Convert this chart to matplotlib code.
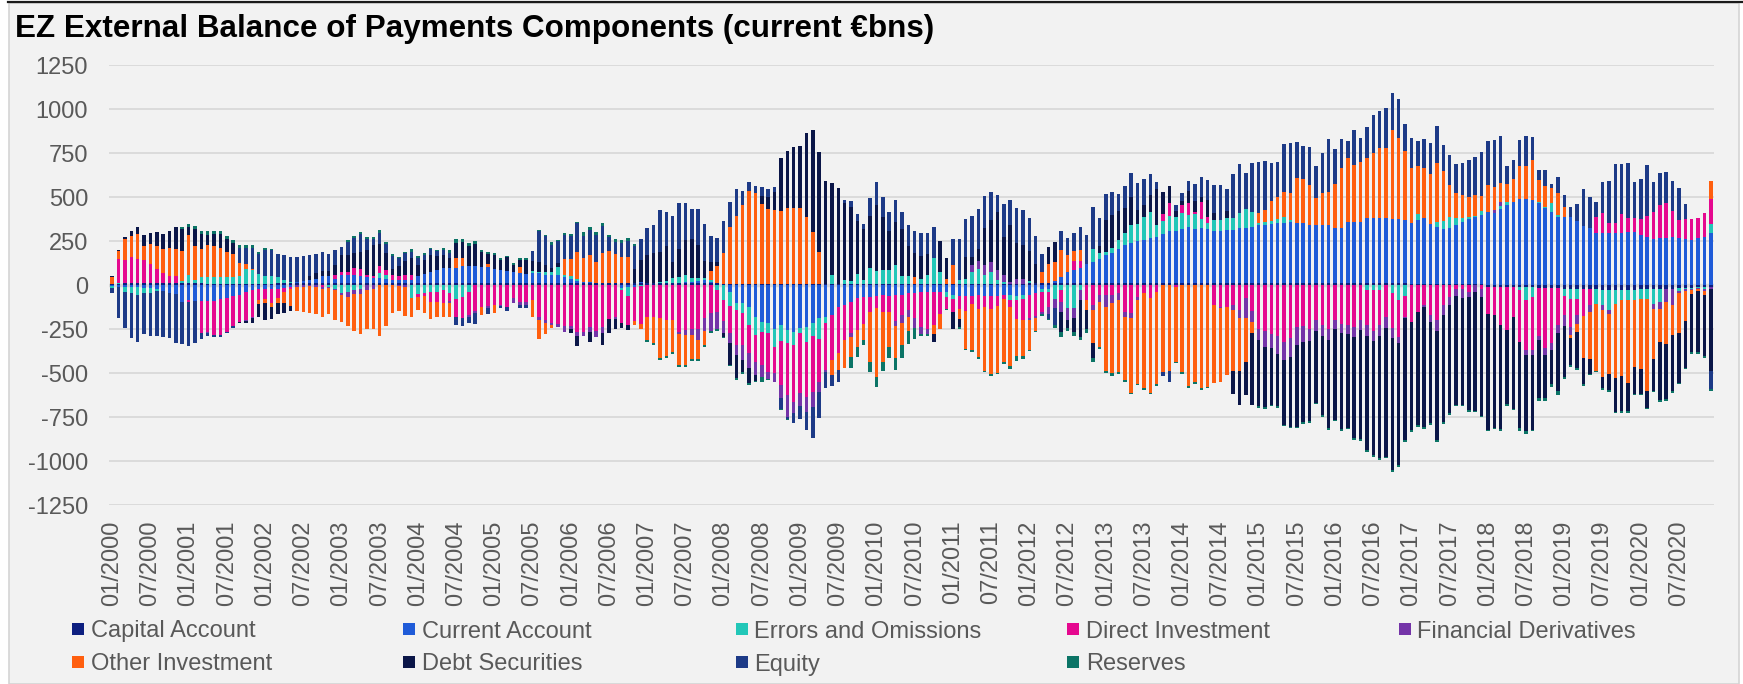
import matplotlib
matplotlib.use('Agg')
import matplotlib.pyplot as plt
import numpy as np
from matplotlib.patches import Rectangle
from matplotlib.lines import Line2D

plt.rcParams['font.family'] = ['Liberation Sans', 'DejaVu Sans']
plt.rcParams['axes.unicode_minus'] = False

# ---------------- data (12-month rolling sums, EUR bn), monthly 01/2000 .. 12/2020
years = list(range(2000, 2021))
months = [f"{m:02d}/{y}" for y in years for m in range(1, 13)]
tick_labels = months[::6]

series_names = ["Capital Account", "Current Account", "Errors and Omissions",
                "Direct Investment", "Financial Derivatives", "Other Investment",
                "Debt Securities", "Equity", "Reserves"]

cap = [8, 8, 9, 9, 9, 9, 9, 10, 10, 10, 10, 10,
       9, 9, 9, 8, 8, 8, 8, 8, 8, 8, 8, 8,
       8, 8, 9, 9, 9, 9, 9, 9, 9, 9, 9, 9,
       10, 10, 10, 10, 10, 10, 10, 10, 10, 10, 10, 10,
       12, 12, 12, 12, 12, 12, 12, 12, 12, 12, 12, 12,
       11, 11, 11, 11, 11, 11, 11, 11, 11, 11, 11, 11,
       10, 10, 10, 10, 10, 10, 10, 10, 10, 10, 10, 10,
       9, 9, 9, 9, 9, 9, 9, 9, 9, 9, 9, 9,
       8, 8, 8, 8, 8, 8, 8, 8, 8, 8, 8, 8,
       7, 7, 7, 7, 7, 7, 7, 7, 7, 7, 7, 7,
       6, 6, 6, 6, 6, 6, 6, 6, 6, 6, 6, 6,
       8, 8, 8, 8, 8, 8, 8, 8, 8, 8, 8, 8,
       10, 10, 10, 10, 10, 10, 10, 10, 10, 10, 10, 10,
       12, 12, 12, 12, 12, 12, 12, 12, 12, 12, 12, 12,
       12, 12, 12, 12, 12, 12, 12, 12, 12, 12, 12, 12,
       11, 11, 11, 11, 11, 11, 11, 11, 11, 11, 11, 11,
       10, 10, 10, 10, 10, 10, 10, 10, 10, 10, 10, 10,
       5, 5, 5, 5, 5, 5, 5, 5, 5, 5, 5, 5,
       -10, -10, -10, -10, -12, -12, -12, -12, -15, -15, -15, -15,
       -20, -20, -20, -25, -25, -25, -30, -30, -30, -30, -30, -30,
       -25, -25, -25, -20, -20, -20, -15, -15, -15, -10, -10, -10]

cur = [-8, -10, -12, -12, -12, -15, -15, -20, -35, -45, -50, -95,
       -85, -90, -90, -90, -90, -80, -75, -60, -55, -40, -30, -25,
       -20, -20, -20, -15, -10, 10, 15, 20, 25, 40, 40, 25,
       47, 44, 47, 40, 35, 30, 30, 25, 20, 20, 20, 20,
       40, 50, 62, 75, 85, 85, 85, 95, 95, 95, 90, 90,
       80, 75, 70, 65, 55, 50, 57, 55, 45, 45, 45, 35,
       25, 15, 5, 5, 0, 0, 0, 0, -15, -10, -10, 5,
       0, 0, 0, 0, 0, 5, 10, 10, 15, 20, 10, 0,
       0, -42, -100, -100, -125, -180, -210, -218, -250, -227, -256, -265,
       -246, -237, -218, -190, -180, -170, -123, -114, -95, -76, -70, -70,
       -60, -55, -60, -55, -55, -45, -45, -40, -40, -40, -40, -40,
       -58, -60, -62, -60, -58, -60, -62, -60, -58, -57, -62, -57,
       -55, -45, -20, -20, 13, 38, 66, 76, 89, 108, 119, 136,
       157, 170, 195, 214, 227, 237, 246, 256, 263, 275, 294, 297,
       309, 316, 309, 312, 309, 297, 297, 300, 303, 313, 313, 320,
       330, 330, 335, 340, 341, 345, 340, 340, 330, 330, 330, 330,
       312, 312, 347, 347, 350, 373, 373, 370, 369, 366, 366, 359,
       350, 364, 373, 341, 326, 312, 318, 335, 354, 369, 383, 394,
       413, 407, 430, 455, 473, 487, 487, 483, 468, 439, 417, 388,
       388, 384, 366, 335, 322, 297, 294, 294, 294, 297, 303, 303,
       282, 271, 260, 265, 265, 271, 265, 259, 256, 265, 271, 297]

err = [-10, 5, -25, -35, -45, -30, -30, -15, 0, 0, 0, 10,
       45, 20, 35, 35, 40, 35, 35, 40, 45, 85, 75, 55,
       45, 45, 35, 20, 10, 0, 0, 0, 0, 0, -10, -20,
       -47, -38, -30, -25, 0, 0, 30, 20, 0, 0, 0, -76,
       -50, -45, -40, -40, -30, -45, -80, -70, -40, 0, 0, 0,
       0, 0, 0, 0, 0, 0, 10, 10, 20, 20, 45, 10,
       15, 10, 0, 0, 0, 0, 0, 0, -15, -50, 0, -5,
       0, 0, 10, 15, 30, 30, 35, 20, 15, 10, 10, -30,
       -85, -80, -40, -60, -100, -105, -57, -57, -100, -90, -76, -76,
       -28, -85, -70, -114, -38, 47, 0, 19, 15, 57, 20, 89,
       76, 81, 81, 108, 47, 47, 0, 28, 53, 146, 66, -28,
       -20, 19, 28, 66, 85, 47, 66, 19, 10, -30, -23, -20,
       10, 0, -20, -20, -81, -28, -133, -133, -30, 0, 74, 34,
       19, 28, 51, 70, 104, 98, 127, 146, 68, 76, 85, 76,
       89, 72, 83, 51, 32, 62, 62, 70, 66, 85, 104, 80,
       10, 15, 20, 25, 32, 15, 0, 0, 0, 0, 0, 0,
       0, 0, 0, 0, 0, -30, -30, -30, 0, -47, -85, -61,
       0, 34, 0, 0, 25, 44, 66, 38, 20, 10, 5, 23,
       0, 0, 19, 19, 0, -19, -76, -57, 6, 6, 47, 10,
       -42, -57, -57, 0, 0, -85, -85, -114, -76, -57, -57, -57,
       -57, -57, -85, -76, 0, 0, -19, -10, -5, -5, -10, 49]

di = [0, 135, 135, 148, 138, 133, 112, 82, 58, 42, 40, 0,
      -10, 0, -185, -175, -195, -205, -190, -175, -158, -160, -150, -60,
      -60, -85, -55, -25, -10, 0, 0, 0, 0, -10, 0, 20,
      19, 19, 38, 40, 10, 10, 38, 30, 25, 20, 25, 28,
      -20, -20, -55, -55, -70, -45, -100, -115, -130, -150, -125, -122,
      -114, -114, -123, -76, -95, -95, -85, -180, -200, -216, -222, -235,
      -235, -265, -265, -240, -260, -240, -195, -180, -186, -170, -195, -215,
      -180, -180, -185, -200, -200, -265, -255, -250, -250, -190, -160, -125,
      -120, -150, -200, -180, -160, -150, -190, -218, -150, -250, -294, -322,
      -341, -312, -318, -246, -265, -256, -265, -199, -180, -180, -150, -85,
      -72, -100, -95, -152, -114, -95, -140, -200, -208, -189, -123, -66,
      -76, -76, -85, -47, -76, -66, -76, -60, -20, -40, -110, -123,
      -133, -133, -114, -85, 0, -66, 0, 51, 38, -85, -114, -57,
      -57, -55, -45, -152, -161, -66, -47, -76, -38, 38, 76, -10,
      47, 66, 11, 95, 32, -114, -123, -123, -113, -142, -76, -150,
      -250, -260, -280, -290, -322, -300, -240, -235, -250, -200, -230, -250,
      -200, -220, -230, -240, -200, -200, -230, -200, -180, -199, -208, -119,
      -208, -152, -114, -170, -199, -114, -66, -20, -20, -40, 0, -20,
      -152, -160, -220, -245, -170, -295, -284, -303, -275, -341, -313, -210,
      -110, -161, -95, -150, -90, 91, 114, 57, 61, 104, 80, 77,
      91, 123, 152, 189, 199, 152, 104, 115, 119, 117, 136, 140]

fd = [0, 0, 0, 0, 0, 0, 0, 0, 0, 0, 0, 0,
      0, 0, 0, -5, 0, 0, 0, 0, 0, -5, -5, 0,
      0, 0, 0, 0, 0, -10, -10, -8, -10, -10, -5, -10,
      -10, -28, -20, -25, -30, -25, 0, 0, 0, -5, -10, 0,
      0, 0, 0, 0, 0, -10, 0, 0, -10, -10, 0, -10,
      0, -5, 0, -28, -18, -18, 0, -20, -15, -10, -15, -30,
      -15, -25, -25, -25, -33, -30, 0, -15, 0, 0, 0, 0,
      0, 0, 0, 0, 0, -15, -30, -35, -60, -70, -100, -95,
      -65, -55, -57, -85, -85, -75, -65, -40, -50, -76, -123, -66,
      -72, -85, -85, -57, -9, 0, 0, 0, -19, 0, 0, 0,
      0, 0, 0, -28, -47, -40, -57, -38, -32, 0, 0, 0,
      0, 0, 0, 38, 42, 57, 57, 57, 38, 10, 28, 28,
      -13, -10, -10, -38, -51, -57, -66, -57, -57, 0, -28, -38,
      -66, -45, -40, -28, -25, -19, 0, 0, 0, 0, 0, 0,
      0, 0, 0, 0, 0, 0, -10, 0, -28, -47, -114, -60,
      -60, -90, -80, -100, -104, -110, -100, -90, -70, -60, -60, -60,
      -50, -55, -50, -55, -55, -60, -60, -60, -66, -57, -38, -10,
      0, 0, -10, -38, -62, -57, -47, -40, -53, -30, -38, -47,
      0, 19, 25, 0, 0, 0, -23, -28, -25, -42, -44, -47,
      -60, -47, -47, 0, -38, 0, -28, -19, 0, 0, 0, 0,
      0, 0, -28, -38, -76, -95, -10, -10, -10, -10, -15, -10]

oi = [40, 45, 115, 123, 144, 80, 110, 128, 138, 157, 157, 175,
      230, 190, 160, 185, 175, 170, 145, 130, 70, 28, 10, -25,
      -25, -20, -25, -60, -100, -140, -145, -152, -155, -160, -150, -170,
      -151, -165, -210, -230, -220, -225, -290, -231, -161, -140, -165, -108,
      -72, -96, -98, -85, -84, -80, 57, 47, 0, 0, -45, 20,
      -47, 0, 0, 0, 38, 0, -95, -106, -65, -20, 0, 90,
      95, 150, 138, 157, 123, 170, 183, 165, 150, 150, -20, -30,
      -135, -150, -230, -205, -182, -175, -170, -135, -110, -80, 50, 100,
      175, 322, 382, 445, 527, 515, 455, 426, 420, 411, 432, 430,
      430, 379, 294, 180, 0, -85, -95, -161, -114, -95, -90, -284,
      -388, -280, -199, -180, -123, -80, 38, 0, 0, -47, -85, 28,
      108, -57, -218, -265, -275, -360, -370, -380, -360, -335, -208, -204,
      -170, -71, 66, 108, 106, 152, 95, 57, 62, -57, -186, -256,
      -366, -400, -410, -360, -425, -475, -540, -536, -527, -492, -490, -426,
      -496, -573, -549, -587, -578, -445, -420, -390, -350, -300, -250, -60,
      60, 70, 110, 125, 144, 150, 259, 250, 227, 155, 184, 190,
      250, 345, 364, 322, 341, 337, 366, 398, 398, 506, 458, 392,
      309, 275, 284, 284, 337, 284, 180, 144, 135, 114, 120, 85,
      155, 130, 104, 100, 129, 189, 189, 227, 123, 117, 85, 127,
      57, -15, -47, -240, -265, -378, -380, -345, -420, -430, -470, -380,
      -398, -520, -284, -189, -237, -170, -227, -170, -20, -10, -20, 106]

debt = [5, 8, 12, 28, 38, 62, 66, 80, 83, 95, 120, 123,
        45, 98, 85, 55, 65, 75, 75, 60, -5, -13, -30, -70,
        -95, -70, -65, -60, -30, 0, 0, 20, 35, 30, 30, 60,
        95, 98, 85, 95, 145, 180, 123, 95, 38, 60, 80, 95,
        60, 80, 98, 80, 76, 57, 85, 91, 117, 127, 85, 55,
        81, 58, 76, 39, 40, 83, 57, 57, 38, 20, 25, 0,
        -20, -55, 0, -57, 0, -70, -79, -55, -30, -25, 80, 125,
        160, 170, 170, 195, 90, 160, 200, 220, 190, 100, 50, 20,
        -25, -125, -130, -70, -85, -38, 40, 66, 100, 303, 320, 346,
        352, 479, 577, 568, 583, 525, 545, 440, 420, 298, 290, 296,
        370, 297, 222, 246, 265, 170, 140, 133, 118, -47, 180, 118,
        -95, -47, 123, 47, 72, 212, 237, 331, 218, 322, 203, 193,
        176, 110, 0, 100, 117, -114, -47, -76, -208, -110, -85, 42,
        184, 189, 161, 142, 155, 81, 68, 100, 205, 130, 98, 38,
        19, 66, 61, 28, 100, 40, 0, 38, -130, -190, -185, -410,
        -380, -345, -320, -300, -369, -395, -465, -455, -455, -410, -450, -505,
        -515, -545, -530, -575, -620, -650, -645, -695, -729, -748, -691, -691,
        -616, -644, -682, -578, -619, -606, -616, -620, -610, -640, -680, -680,
        -660, -640, -590, -420, -520, -485, -437, -422, -326, -242, -193, -328,
        -290, -155, -205, -148, -85, 0, -62, -91, -195, -200, -160, -152,
        -137, -95, -180, -331, -317, -318, -285, -265, -330, -345, -350, -470]

eq = [-30, -180, -210, -255, -265, -235, -245, -255, -260, -255, -280, -238,
      -250, -240, -30, -20, -10, -10, -5, -10, 90, 90, 118, 115,
      145, 145, 130, 140, 140, 140, 140, 120, 105, 110, 95, 85,
      47, 72, 85, 103, 60, 30, 66, 53, 74, 42, 45, 37,
      42, 31, 33, 25, 25, 28, -47, -48, -38, -62, 0, -35,
      0, -14, -23, 0, -20, -20, 56, 171, 162, 133, 122, 136,
      133, 165, 127, 140, 150, 155, 81, 72, 80, 90, 133, 120,
      155, 160, 235, 195, 262, 260, 210, 170, 200, 210, 150, 140,
      180, 142, 157, 80, 51, 38, 55, 47, 30, -60, -12, -53,
      -76, -104, -180, -146, -95, -62, -66, 18, 35, 44, 30, 102,
      133, 114, 108, 123, 99, 120, 123, 129, 119, 176, 0, 0,
      144, 233, 218, 231, 224, 182, 161, 98, 185, 142, 199, 199,
      187, 161, 98, -28, -95, 108, 98, 104, 133, 167, 242, 157,
      146, 127, 98, 127, 138, 152, 152, 117, 38, -25, -63, 34,
      47, 61, 98, 114, 112, 160, 196, 123, 250, 278, 208, 280,
      290, 280, 215, 200, 273, 285, 205, 186, 218, 182, 224, 298,
      200, 163, 98, 199, 136, 180, 218, 212, 231, 208, 222, 152,
      174, 142, 167, 174, 208, 153, 169, 165, 177, 213, 217, 250,
      250, 270, 270, 102, 108, 150, 170, 130, 56, 91, 25, 91,
      66, 61, 95, 208, 176, 81, 176, 240, 331, 284, 312, 208,
      227, 286, 174, 180, 176, 170, 180, 89, 0, 0, 0, -100]

res = [0, 0, 0, 0, 0, 0, 0, 0, 0, 0, 0, 10,
       15, 20, 18, 25, 20, 18, 15, 15, 13, 15, 15, 10,
       10, 5, 0, 0, 0, 0, 0, 0, 0, 0, 0, 0,
       0, 10, 12, 15, 10, 10, 15, 10, 8, 8, 10, 12,
       10, 8, 8, 8, 10, 15, 20, 18, 15, 15, 10, 8,
       10, 8, 8, 10, 10, 10, 5, 10, 10, 15, 10, 13,
       10, 10, 20, 20, 20, 15, 10, 13, 16, 15, 12, 0,
       -10, -10, -10, -10, -10, -10, -10, -10, -10, -10, -10, -10,
       -5, -10, -10, -10, -12, -5, -28, -7, 0, -10, -8, 0,
       0, 0, 0, 0, 0, 0, 0, 0, -66, -57, -30, -57,
       -61, -55, -61, -67, -76, -75, -66, -10, -10, 0, 0, -10,
       0, -10, -7, -10, -10, -10, -10, -5, -10, -15, -28, -18,
       -2, -10, -10, -10, -15, -28, -13, -25, -19, -23, -23, -13,
       -13, -15, -10, -13, -10, -10, -10, -10, -10, 0, 0, -9,
       -10, -10, -12, -10, -10, 0, 0, 0, 0, 0, 0, 0,
       -8, -8, -8, -8, -8, -8, -8, -8, -8, -8, -8, -8,
       -8, -8, -8, -8, -10, -10, -10, -10, -10, -10, -10, -10,
       -10, -10, -10, -10, -10, -10, -10, -5, -5, -10, -5, -5,
       -8, -8, -8, -10, -10, -19, -13, -10, -19, -19, -15, -27,
       -10, -10, -10, -10, -10, -7, -10, -10, -8, -8, -8, -8,
       -8, -8, -8, -8, -10, -10, -8, -9, -10, -12, -12, -13]

colors = ["#0d1f80", "#1f5bd8", "#22c7b8", "#e5088f", "#7434a8",
          "#ff5f0f", "#0b1648", "#1d3a87", "#0b7466"]

data = [cap, cur, err, di, fd, oi, debt, eq, res]

# ---------------- figure
W, H = 1743, 684
fig = plt.figure(figsize=(W / 100, H / 100), dpi=100)
fig.patch.set_facecolor('white')
fig.patches.append(Rectangle((9 / W, 0), (1739 - 9) / W, (H - 3) / H,
                             transform=fig.transFigure, facecolor='#f2f2f2',
                             edgecolor='#d4d4d4', lw=1.2, zorder=-10))
fig.add_artist(Line2D([8 / W, 1], [1 - 2 / H, 1 - 2 / H], color='#1a1a1a', lw=1.6))

ax = fig.add_axes([109 / W, (H - 505) / H, 1605 / W, 440 / H])
ax.set_facecolor('#f2f2f2')

x = np.arange(len(months))
pos_bottom = np.zeros(len(months))
neg_bottom = np.zeros(len(months))
for vals, c in zip(data, colors):
    v = np.asarray(vals, dtype=float)
    p = np.where(v > 0, v, 0.0)
    n = np.where(v < 0, v, 0.0)
    ax.bar(x, p, bottom=pos_bottom, width=0.55, color=c, lw=0, zorder=3)
    ax.bar(x, n, bottom=neg_bottom, width=0.55, color=c, lw=0, zorder=3)
    pos_bottom += p
    neg_bottom += n

ax.set_xlim(-0.5, len(months) - 0.5)
ax.set_ylim(-1250, 1250)
ax.set_yticks(np.arange(-1250, 1251, 250))
ax.grid(axis='y', color='#d9d9d9', lw=1.3, zorder=0)
ax.axhline(0, color='#d9d9d9', lw=2.5, zorder=2)
for s in ax.spines.values():
    s.set_visible(False)
ax.tick_params(axis='both', length=0, labelsize=17, labelcolor='#595959')
ax.tick_params(axis='y', pad=15)
ax.set_xticks(np.arange(0, len(months), 6))
ax.set_xticklabels(tick_labels, rotation=90)
ax.tick_params(axis='x', pad=11)

fig.text(15 / W, 1 - 37 / H, "EZ External Balance of Payments Components (current €bns)",
         fontsize=22.6, fontweight='bold', ha='left', va='baseline', color='black')

# legend (two rows, five columns)
mk_x = [72, 403, 736, 1067, 1399]
tx_x = [91, 422, 754, 1086, 1417]
row_y = [629, 662]
for k, (name, c) in enumerate(zip(series_names, colors)):
    r, col = divmod(k, 5)
    yc = row_y[r]
    fig.patches.append(Rectangle((mk_x[col] / W, (H - yc - 6) / H), 12 / W, 12 / H,
                                 transform=fig.transFigure, facecolor=c, lw=0))
    fig.text(tx_x[col] / W, (H - yc) / H, name, fontsize=17, color='#595959',
             ha='left', va='center_baseline')

fig.savefig('out.png', dpi=100, facecolor=fig.get_facecolor())
